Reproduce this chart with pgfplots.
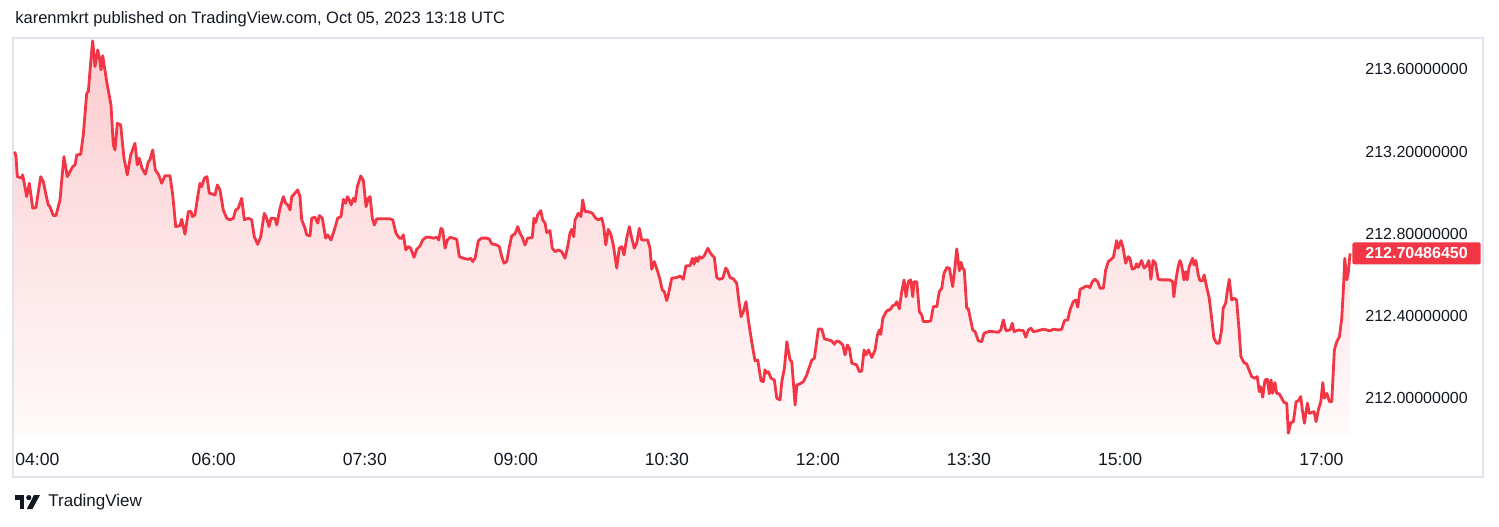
\documentclass[border=0pt]{standalone}
\usepackage{fontspec}
\setmainfont{Liberation Sans}
\usepackage{pgfplots}
\usepackage{pgfplotstable}
\pgfplotsset{compat=1.18}
\definecolor{tvred}{RGB}{242,54,69}
\definecolor{tvtext}{RGB}{19,23,34}
\definecolor{tvframe}{RGB}{224,227,235}
\definecolor{filltop}{RGB}{251,203,207}
\definecolor{fillbot}{RGB}{255,250,250}

\pgfplotstableread{
t v
4.024 213.200
4.037 213.176
4.050 213.078
4.093 213.071
4.103 213.087
4.143 212.981
4.169 213.046
4.203 212.925
4.235 212.928
4.282 213.078
4.308 213.054
4.335 212.989
4.357 212.941
4.374 212.932
4.407 212.889
4.434 212.889
4.474 212.965
4.491 213.062
4.513 213.176
4.546 213.078
4.573 213.103
4.600 213.127
4.623 213.135
4.640 213.184
4.679 213.187
4.705 213.281
4.739 213.484
4.755 213.492
4.779 213.638
4.798 213.739
4.821 213.614
4.848 213.695
4.864 213.662
4.881 213.598
4.898 213.667
4.914 213.614
4.943 213.525
4.980 213.427
5.003 213.233
5.020 213.208
5.043 213.338
5.076 213.330
5.109 213.168
5.142 213.087
5.176 213.184
5.218 213.241
5.241 213.135
5.261 213.168
5.288 213.119
5.321 213.090
5.351 213.151
5.367 213.160
5.394 213.208
5.420 213.111
5.454 213.087
5.484 213.046
5.516 213.083
5.566 213.083
5.593 212.989
5.623 212.835
5.665 212.840
5.682 212.871
5.715 212.798
5.748 212.908
5.775 212.908
5.788 212.884
5.814 212.892
5.841 212.981
5.864 213.046
5.881 213.030
5.907 213.071
5.933 213.078
5.956 212.998
6.013 212.989
6.036 213.038
6.062 213.014
6.095 212.916
6.129 212.876
6.162 212.868
6.195 212.876
6.218 212.916
6.244 212.925
6.278 212.973
6.304 212.868
6.344 212.876
6.377 212.868
6.403 212.786
6.437 212.749
6.467 212.786
6.502 212.900
6.526 212.876
6.549 212.835
6.569 212.876
6.609 212.876
6.626 212.843
6.658 212.925
6.691 212.981
6.715 212.949
6.735 212.941
6.758 212.916
6.775 212.981
6.807 212.998
6.834 213.014
6.857 212.981
6.874 212.868
6.907 212.827
6.923 212.795
6.956 212.790
6.973 212.876
7.006 212.881
7.033 212.852
7.049 212.889
7.078 212.876
7.112 212.779
7.132 212.795
7.165 212.770
7.198 212.819
7.231 212.876
7.264 212.884
7.287 212.968
7.311 212.949
7.327 212.981
7.347 212.965
7.364 212.941
7.387 212.973
7.404 212.957
7.426 213.030
7.460 213.082
7.486 213.059
7.513 212.932
7.536 212.973
7.553 212.981
7.575 212.876
7.595 212.843
7.619 212.873
7.684 212.873
7.751 212.873
7.778 212.868
7.810 212.803
7.843 212.779
7.867 212.779
7.883 212.795
7.907 212.722
7.932 212.738
7.956 212.730
7.989 212.686
8.016 212.725
8.049 212.741
8.075 212.770
8.108 212.783
8.148 212.783
8.181 212.779
8.215 212.783
8.234 212.770
8.257 212.827
8.274 212.819
8.297 212.730
8.320 212.770
8.347 212.783
8.413 212.774
8.439 212.689
8.479 212.681
8.528 212.676
8.552 212.681
8.572 212.665
8.595 212.681
8.628 212.767
8.661 212.779
8.711 212.779
8.737 212.774
8.761 212.751
8.810 212.746
8.836 212.738
8.860 212.689
8.883 212.657
8.910 212.665
8.936 212.738
8.959 212.790
8.992 212.800
9.019 212.835
9.041 212.803
9.064 212.783
9.091 212.746
9.118 212.779
9.163 212.782
9.180 212.876
9.197 212.855
9.217 212.892
9.247 212.913
9.267 212.868
9.290 212.852
9.307 212.806
9.339 212.816
9.362 212.730
9.389 212.713
9.422 212.722
9.456 212.713
9.488 212.681
9.515 212.738
9.538 212.803
9.555 212.822
9.575 212.786
9.588 212.868
9.620 212.900
9.647 212.884
9.664 212.965
9.687 212.908
9.720 212.908
9.760 212.900
9.793 212.876
9.819 212.868
9.853 212.876
9.873 212.835
9.893 212.746
9.918 212.822
9.945 212.795
9.968 212.746
10.002 212.633
10.027 212.730
10.051 212.738
10.074 212.697
10.101 212.779
10.127 212.835
10.151 212.779
10.177 212.730
10.200 212.754
10.226 212.827
10.250 212.770
10.309 212.770
10.332 212.730
10.349 212.628
10.375 212.665
10.409 212.616
10.432 212.576
10.454 212.527
10.474 212.519
10.498 212.475
10.514 212.503
10.548 212.584
10.597 212.587
10.630 212.595
10.663 212.579
10.690 212.645
10.730 212.645
10.753 212.681
10.770 212.652
10.787 212.684
10.806 212.665
10.822 212.689
10.846 212.681
10.872 212.694
10.906 212.730
10.932 212.706
10.971 212.684
10.995 212.587
11.021 212.579
11.055 212.584
11.084 212.633
11.100 212.624
11.127 212.587
11.160 212.581
11.193 212.560
11.216 212.470
11.236 212.397
11.259 212.421
11.286 212.470
11.309 212.381
11.342 212.275
11.375 212.182
11.402 212.186
11.435 212.084
11.458 212.081
11.474 212.138
11.494 212.122
11.507 212.129
11.534 212.097
11.567 212.089
11.591 212.000
11.624 211.992
11.641 212.081
11.667 212.146
11.691 212.275
11.723 212.186
11.740 212.178
11.773 211.967
11.790 212.065
11.813 212.068
11.856 212.081
11.889 212.113
11.905 212.138
11.939 212.186
11.965 212.195
12.004 212.337
12.038 212.337
12.064 212.289
12.103 212.284
12.137 212.279
12.163 212.263
12.187 212.279
12.220 212.273
12.246 212.259
12.269 212.211
12.292 212.259
12.312 212.243
12.336 212.170
12.369 212.165
12.385 212.162
12.411 212.129
12.435 212.133
12.458 212.235
12.478 212.211
12.501 212.235
12.535 212.198
12.567 212.235
12.590 212.308
12.610 212.332
12.624 212.311
12.644 212.389
12.677 212.421
12.700 212.430
12.716 212.430
12.743 212.451
12.766 212.454
12.782 212.470
12.808 212.435
12.832 212.519
12.855 212.576
12.875 212.494
12.897 212.567
12.921 212.576
12.941 212.494
12.954 212.567
12.981 212.567
13.007 212.421
13.031 212.405
13.046 212.373
13.086 212.373
13.120 212.376
13.146 212.446
13.180 212.446
13.205 212.519
13.229 212.535
13.252 212.608
13.279 212.636
13.305 212.633
13.338 212.543
13.361 212.640
13.378 212.727
13.404 212.620
13.420 212.662
13.437 212.633
13.453 212.624
13.477 212.438
13.493 212.435
13.537 212.332
13.560 212.324
13.593 212.279
13.626 212.275
13.649 212.316
13.692 212.324
13.741 212.324
13.791 212.321
13.815 212.332
13.841 212.381
13.867 212.328
13.907 212.332
13.930 212.365
13.947 212.324
13.990 212.332
14.039 212.329
14.063 212.297
14.089 212.332
14.115 212.341
14.138 212.324
14.188 212.329
14.238 212.336
14.272 212.332
14.304 212.328
14.337 212.336
14.387 212.332
14.421 212.336
14.447 212.378
14.480 212.381
14.503 212.430
14.536 212.470
14.560 212.478
14.580 212.443
14.603 212.530
14.625 212.535
14.652 212.543
14.679 212.546
14.701 212.538
14.724 212.567
14.751 212.579
14.778 212.567
14.801 212.535
14.834 212.535
14.857 212.624
14.883 212.665
14.910 212.676
14.933 212.686
14.966 212.767
14.982 212.730
15.009 212.767
15.031 212.730
15.055 212.657
15.081 212.689
15.098 212.681
15.120 212.628
15.147 212.633
15.164 212.654
15.180 212.637
15.213 212.670
15.239 212.633
15.263 212.644
15.286 212.670
15.306 212.579
15.328 212.670
15.352 212.657
15.378 212.579
15.412 212.576
15.461 212.576
15.494 212.576
15.521 212.567
15.534 212.494
15.554 212.576
15.577 212.640
15.594 212.670
15.611 212.649
15.634 212.576
15.653 212.616
15.666 212.576
15.686 212.640
15.720 212.681
15.733 212.649
15.753 212.670
15.776 212.600
15.793 212.572
15.819 212.572
15.835 212.600
15.859 212.543
15.885 212.487
15.909 212.389
15.932 212.292
15.958 212.268
15.984 212.268
16.008 212.332
16.024 212.438
16.048 212.462
16.064 212.519
16.084 212.579
16.108 212.478
16.131 212.487
16.157 212.478
16.180 212.341
16.200 212.202
16.230 212.173
16.257 212.167
16.283 212.134
16.307 212.105
16.339 212.097
16.362 212.105
16.382 212.032
16.396 212.056
16.416 212.005
16.439 212.089
16.462 212.092
16.482 212.021
16.499 212.089
16.515 212.024
16.538 212.076
16.555 212.024
16.581 212.021
16.605 212.000
16.628 211.979
16.655 211.976
16.671 211.830
16.695 211.881
16.721 211.886
16.748 211.983
16.770 211.988
16.794 212.008
16.810 211.943
16.830 211.878
16.860 211.976
16.880 211.927
16.903 211.930
16.926 211.935
16.946 211.886
16.969 211.943
16.993 211.983
17.013 212.076
17.029 212.000
17.053 212.024
17.079 211.983
17.102 211.983
17.128 212.235
17.152 212.275
17.178 212.300
17.201 212.389
17.217 212.527
17.231 212.681
17.251 212.576
17.267 212.616
17.284 212.70486450
}\pricedata

\begin{document}
\begin{tikzpicture}
\path[use as bounding box] (0pt,0pt) rectangle (749.5pt,263pt);
\draw[tvframe, line width=1pt] (6.5pt,24.5pt) rectangle (741.5pt,244pt);
\node[anchor=west, inner sep=0pt, text=tvtext, font=\fontsize{8.25}{10}\selectfont] at (7.5pt,253.5pt) {karenmkrt published on TradingView.com, Oct 05, 2023 13:18 UTC};
\begin{axis}[
  at={(6.5pt,45.5pt)}, anchor=south west,
  scale only axis, width=669.5pt, height=198.5pt,
  xmin=4.007, xmax=17.303, ymin=211.821, ymax=213.753,
  axis line style={draw=none},
  major tick length=0pt,
  tick style={draw=none},
  xtick={6,7.5,9,10.5,12,13.5,15,17},
  xticklabels={06:00,07:30,09:00,10:30,12:00,13:30,15:00,17:00},
  extra x ticks={4.007},
  extra x tick labels={04:00},
  extra x tick style={xticklabel style={anchor=west, xshift=1pt}},
  xticklabel style={anchor=center, yshift=-12.25pt, inner sep=0pt, text=tvtext, font=\fontsize{8.8}{10}\selectfont},
  yticklabel pos=right,
  ytick={212,212.4,212.8,213.2,213.6},
  yticklabels={212.00000000,212.40000000,212.80000000,213.20000000,213.60000000},
  yticklabel style={anchor=west, xshift=6.5pt, inner sep=0pt, text=tvtext, font=\fontsize{8}{10}\selectfont},
]
\addplot[top color=filltop, bottom color=fillbot, draw=none, forget plot] table[x=t,y=v] {\pricedata} |- (axis cs:4.024,211.821) -- cycle;
\addplot[tvred, line width=1.4pt, line join=round, mark=none] table[x=t,y=v] {\pricedata};
\coordinate (lastp) at (axis cs:17.303,212.70486450);
\end{axis}
\node[anchor=west, fill=tvred, text=white, inner xsep=6.5pt, inner ysep=0pt, minimum height=11pt, rounded corners=1pt, font=\fontsize{8}{10}\selectfont\bfseries] at (lastp) {212.70486450};
% TradingView logo
\fill[tvtext] (7.5pt,13.25pt) rectangle (12pt,15.5pt);
\fill[tvtext] (10pt,8.5pt) rectangle (12pt,15.5pt);
\fill[tvtext] (14.4pt,14.2pt) circle (1.3pt);
\fill[tvtext] (17pt,15.5pt) -- (20pt,15.5pt) -- (16.2pt,8.5pt) -- (13.4pt,8.5pt) -- cycle;
\node[anchor=west, inner sep=0pt, text=tvtext, font=\fontsize{8.5}{10}\selectfont] at (24pt,12pt) {TradingView};
\end{tikzpicture}
\end{document}
